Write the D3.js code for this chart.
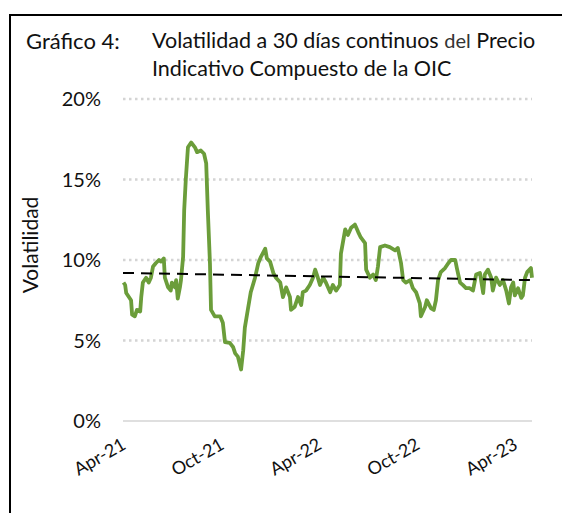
<!DOCTYPE html>
<html>
<head>
<meta charset="utf-8">
<script src="https://cdn.jsdelivr.net/npm/d3@7"></script>
<style>
  body { margin: 0; background: #fff; }
  text { font-family: Lato, "Open Sans", sans-serif; fill: #111; }
</style>
</head>
<body>
<script>
// volatilidad a 30 dias, %
const dates = [
  "2021-04-02","2021-04-05","2021-04-07","2021-04-12","2021-04-16","2021-04-18","2021-04-23","2021-04-27",
  "2021-05-03","2021-05-05","2021-05-08","2021-05-14","2021-05-19","2021-05-23","2021-05-27","2021-06-01",
  "2021-06-07","2021-06-11","2021-06-16","2021-06-18","2021-06-24","2021-06-29","2021-07-01","2021-07-07",
  "2021-07-09","2021-07-12","2021-07-16","2021-07-18","2021-07-22","2021-07-24","2021-07-27","2021-07-31",
  "2021-08-06","2021-08-13","2021-08-17","2021-08-24","2021-08-30","2021-09-03","2021-09-06","2021-09-10",
  "2021-09-12","2021-09-19","2021-09-29","2021-10-04","2021-10-08","2021-10-17","2021-10-23","2021-10-27",
  "2021-11-01","2021-11-07","2021-11-11","2021-11-14","2021-11-20","2021-11-25","2021-12-03","2021-12-09",
  "2021-12-14","2021-12-22","2021-12-25","2021-12-31","2022-01-06","2022-01-11","2022-01-19","2022-01-24",
  "2022-01-30","2022-02-06","2022-02-08","2022-02-15","2022-02-21","2022-02-27","2022-03-02","2022-03-08",
  "2022-03-15","2022-03-21","2022-03-25","2022-03-30","2022-04-03","2022-04-09","2022-04-14","2022-04-22",
  "2022-04-27","2022-05-03","2022-05-10","2022-05-12","2022-05-20","2022-05-25","2022-05-31","2022-06-07",
  "2022-06-13","2022-06-18","2022-06-26","2022-06-28","2022-07-05","2022-07-11","2022-07-16","2022-07-20",
  "2022-07-24","2022-08-02","2022-08-11","2022-08-21","2022-08-26","2022-09-01","2022-09-05","2022-09-10",
  "2022-09-18","2022-09-23","2022-09-29","2022-10-06","2022-10-08","2022-10-16","2022-10-19","2022-10-27",
  "2022-11-01","2022-11-05","2022-11-09","2022-11-14","2022-11-22","2022-11-28","2022-12-03","2022-12-11",
  "2022-12-14","2022-12-20","2022-12-25","2022-12-31","2023-01-07","2023-01-13","2023-01-19","2023-01-26",
  "2023-02-01","2023-02-04","2023-02-10","2023-02-16","2023-02-19","2023-02-25","2023-03-04","2023-03-10",
  "2023-03-16","2023-03-21","2023-03-25","2023-03-29","2023-04-01","2023-04-07","2023-04-13","2023-04-16",
  "2023-04-20","2023-04-24","2023-05-01","2023-05-03"
];
const volatility = [
  8.6, 8.45, 7.95, 7.7, 7.5, 6.6, 6.5, 6.9,
  6.8, 7.7, 8.6, 8.9, 8.6, 8.9, 9.6, 9.8,
  10.0, 9.9, 10.1, 8.9, 8.3, 8.1, 8.6, 8.3,
  8.75, 7.6, 8.3, 8.75, 10.2, 13.1, 15.0, 17.0,
  17.3, 17.0, 16.7, 16.8, 16.6, 16.0, 13.1, 9.8,
  6.9, 6.5, 6.5, 6.1, 4.9, 4.85, 4.6, 4.2,
  4.0, 3.2, 4.4, 5.8, 7.0, 8.0, 8.9, 9.8,
  10.2, 10.7, 10.1, 9.9, 9.2, 8.9, 8.6, 7.7,
  8.3, 7.7, 6.9, 7.1, 7.7, 7.2, 8.0, 8.1,
  8.45, 8.9, 9.4, 8.9, 8.45, 8.9, 8.6, 8.0,
  8.45, 8.1, 8.45, 10.4, 11.9, 11.55, 12.0, 12.2,
  11.75, 11.4, 11.05, 9.4, 8.9, 9.1, 8.75, 9.6,
  10.8, 10.9, 10.8, 10.6, 10.75, 9.8, 8.75, 8.6,
  8.75, 8.25, 8.0, 7.3, 6.5, 7.1, 7.5, 7.0,
  6.9, 7.5, 8.75, 9.25, 9.5, 9.8, 10.0, 10.0,
  9.5, 8.6, 8.45, 8.25, 8.25, 8.1, 9.1, 9.2,
  7.95, 9.1, 9.4, 8.9, 8.1, 8.9, 8.45, 8.75,
  8.1, 7.3, 8.3, 8.6, 7.8, 8.25, 7.65, 7.8,
  8.9, 9.25, 9.5, 8.9
];
// linea de tendencia (extremos)
const trendDates = ["2021-04-01", "2023-05-03"];
const trendValues = [9.2, 8.75];

const yTicks = [0, 5, 10, 15, 20];
const xTickDates = ["2021-04-01", "2021-10-01", "2022-04-01", "2022-10-01", "2023-04-01"];
const xTickLabels = ["Apr-21", "Oct-21", "Apr-22", "Oct-22", "Apr-23"];

const width = 562, height = 513;
const parse = d3.timeParse("%Y-%m-%d");
const data = dates.map((d, i) => ({ date: parse(d), v: volatility[i] }));
const trend = trendDates.map((d, i) => ({ date: parse(d), v: trendValues[i] }));

const svg = d3.select("body").append("svg")
  .attr("width", width)
  .attr("height", height);

// marco
svg.append("path")
  .attr("d", `M10,${height} L10,15 L${width},15`)
  .attr("fill", "none")
  .attr("stroke", "#000")
  .attr("stroke-width", 2);

const x = d3.scaleTime()
  .domain([parse("2021-04-01"), parse("2023-05-03")])
  .range([123, 532]);
const y = d3.scaleLinear()
  .domain([0, 20])
  .range([421, 99]);

// titulo
svg.append("text").attr("x", 26).attr("y", 49)
  .style("font-size", "22px").text("Gráfico 4:");
const t1 = svg.append("text").attr("x", 152).attr("y", 48).style("font-size", "21.5px");
t1.append("tspan").text("Volatilidad a 30 días continuos ");
t1.append("tspan").style("font-size", "20px").style("fill", "#333").text("del");
t1.append("tspan").text(" Precio");
svg.append("text").attr("x", 152).attr("y", 76)
  .style("font-size", "21.5px").text("Indicativo Compuesto de la OIC");

// cuadricula
svg.selectAll(".grid")
  .data(yTicks)
  .enter()
  .append("line")
  .attr("x1", 123).attr("x2", 532)
  .attr("y1", d => y(d)).attr("y2", d => y(d))
  .attr("stroke", "#d4d4d4")
  .attr("stroke-width", d => d === 0 ? 1.5 : 2.5)
  .attr("stroke-dasharray", d => d === 0 ? null : "2.5,3.5");

svg.selectAll(".ylab")
  .data(yTicks)
  .enter()
  .append("text")
  .attr("x", 101)
  .attr("y", d => y(d) + 7)
  .attr("text-anchor", "end")
  .style("font-size", "20px")
  .text(d => d + "%");

svg.append("text")
  .attr("transform", "translate(38,245) rotate(-90)")
  .attr("text-anchor", "middle")
  .style("font-size", "21px")
  .text("Volatilidad");

svg.selectAll(".xlab")
  .data(xTickDates)
  .enter()
  .append("text")
  .attr("transform", d => `translate(${x(parse(d)) + 4},${448}) rotate(-30)`)
  .attr("text-anchor", "end")
  .style("font-size", "18px")
  .text((d, i) => xTickLabels[i]);

const line = d3.line()
  .x(d => x(d.date))
  .y(d => y(d.v));

svg.append("path")
  .datum(data)
  .attr("d", line)
  .attr("fill", "none")
  .attr("stroke", "#6b9d3a")
  .attr("stroke-width", 3.8)
  .attr("stroke-linejoin", "round");

svg.append("path")
  .datum(trend)
  .attr("d", line)
  .attr("fill", "none")
  .attr("stroke", "#000")
  .attr("stroke-width", 2)
  .attr("stroke-dasharray", "11,7");
</script>
</body>
</html>
